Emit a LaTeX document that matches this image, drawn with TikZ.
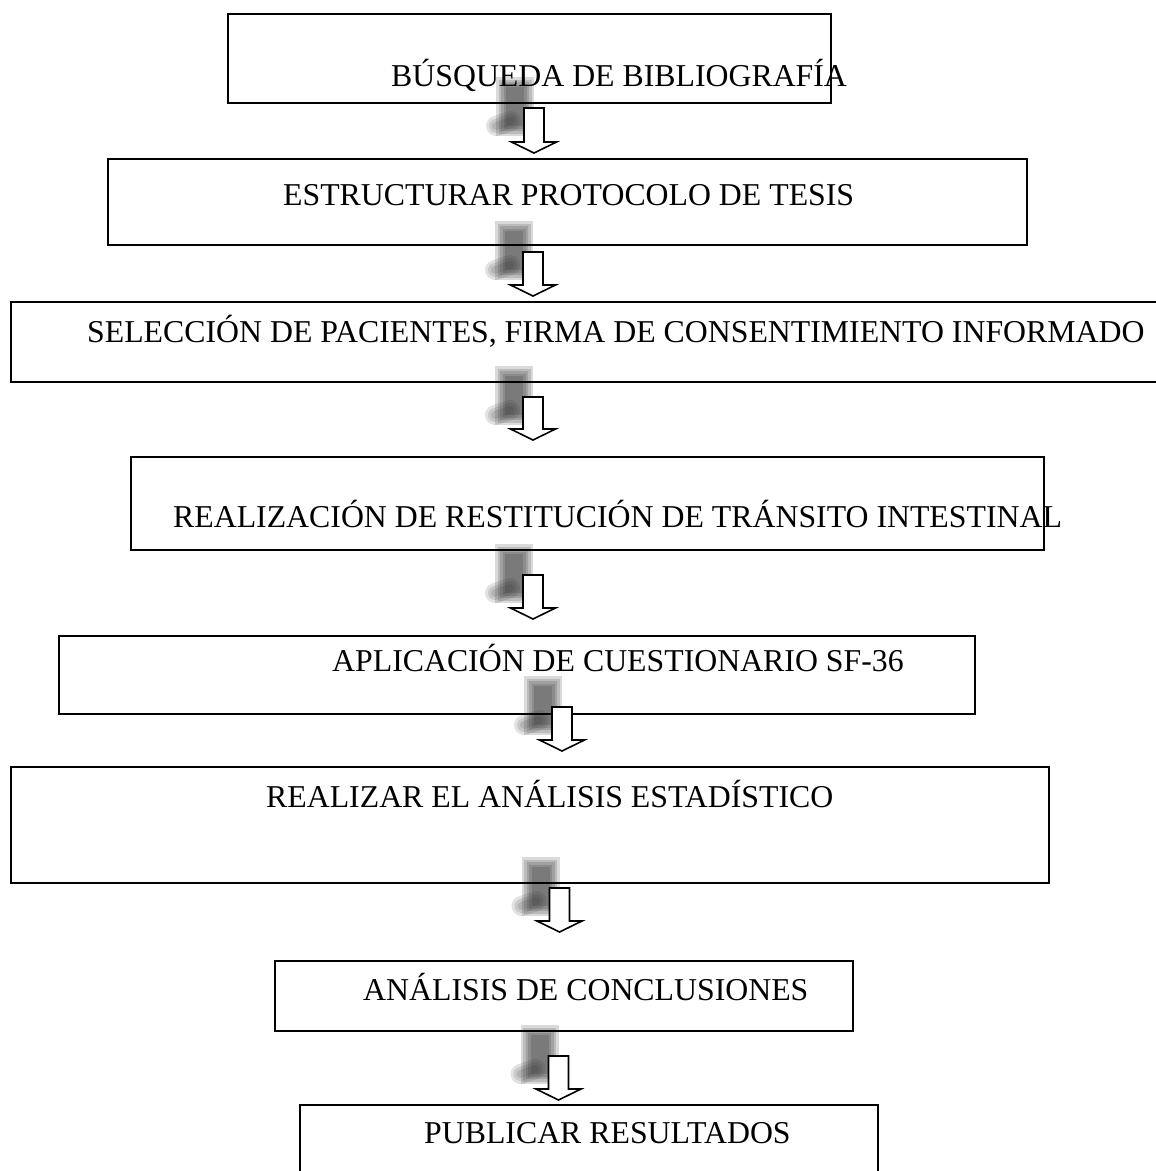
\documentclass[tikz,border=0pt]{standalone}
\usepackage{fontspec}
\setmainfont{Liberation Serif}
\newcommand\shblob[2]{%
  \foreach \w in {38,33,28,23,18}{%
    \draw[black!85, opacity=0.17, line width=\w pt, line cap=rect]
      (#1-9,#2-12) -- (#1-9,#2+9);}%
  \foreach \w in {20,14,8}{%
    \draw[black!85, opacity=0.13, line width=\w pt, line cap=round]
      (#1-13,#2+13) -- (#1-28,#2+18);}}
\newcommand\blkarr[3]{%
  \draw[blk] (#1-10,#2) -- (#1+10,#2) -- (#1+10,#3-11) -- (#1+22.5,#3-11) -- (#1,#3)
    -- (#1-22.5,#3-11) -- (#1-10,#3-11) -- cycle;}
\begin{document}
\begin{tikzpicture}[x=1pt,y=-1pt,
  box/.style={draw=black, line width=1.6pt, anchor=north west, inner sep=0pt},
  lbl/.style={anchor=base west, inner sep=0pt, font=\fontsize{31.8}{38}\selectfont},
  blk/.style={draw=black, fill=white, line width=1.6pt, line join=miter}]
\useasboundingbox (0,0) rectangle (1156,1171);
\clip (0,0) rectangle (1156,1171);
\fill[white] (0,0) rectangle (1156,1171);
% shadows
\shblob{524}{108}
\shblob{523}{252}
\shblob{523}{397}
\shblob{523}{575}
\shblob{552}{707}
\shblob{549.5}{888}
\shblob{548.5}{1056}
% boxes
\node[box, minimum width=603, minimum height=89] (b1) at (227,13) {};
\node[box, minimum width=919, minimum height=86] (b2) at (107,158) {};
\node[box, minimum width=1160, minimum height=80] (b3) at (10,301) {};
\node[box, minimum width=913, minimum height=93] (b4) at (130,456) {};
\node[box, minimum width=916, minimum height=78] (b5) at (58,635) {};
\node[box, minimum width=1038, minimum height=116] (b6) at (10,766) {};
\node[box, minimum width=578, minimum height=70] (b7) at (274,960) {};
\node[box, minimum width=578, minimum height=90] (b8) at (299,1104) {};
% labels
\node[lbl] (t1) at (391,86) {BÚSQUEDA DE BIBLIOGRAFÍA};
\node[lbl] (t2) at (283,205) {ESTRUCTURAR PROTOCOLO DE TESIS};
\node[lbl] (t3) at (87,342) {SELECCIÓN DE PACIENTES, FIRMA DE CONSENTIMIENTO INFORMADO};
\node[lbl] (t4) at (173,527) {REALIZACIÓN DE RESTITUCIÓN DE TRÁNSITO INTESTINAL};
\node[lbl] (t5) at (332,671) {APLICACIÓN DE CUESTIONARIO SF-36};
\node[lbl] (t6) at (266,807) {REALIZAR EL ANÁLISIS ESTADÍSTICO};
\node[lbl] (t7) at (363,1000) {ANÁLISIS DE CONCLUSIONES};
\node[lbl] (t8) at (424,1143) {PUBLICAR RESULTADOS};
% block arrows
\blkarr{534}{108}{153}
\blkarr{533}{252}{296}
\blkarr{533}{397}{440}
\blkarr{533}{575}{619}
\blkarr{562}{707}{751}
\blkarr{559.5}{888}{932}
\blkarr{558.5}{1056}{1100}
\end{tikzpicture}
\end{document}
